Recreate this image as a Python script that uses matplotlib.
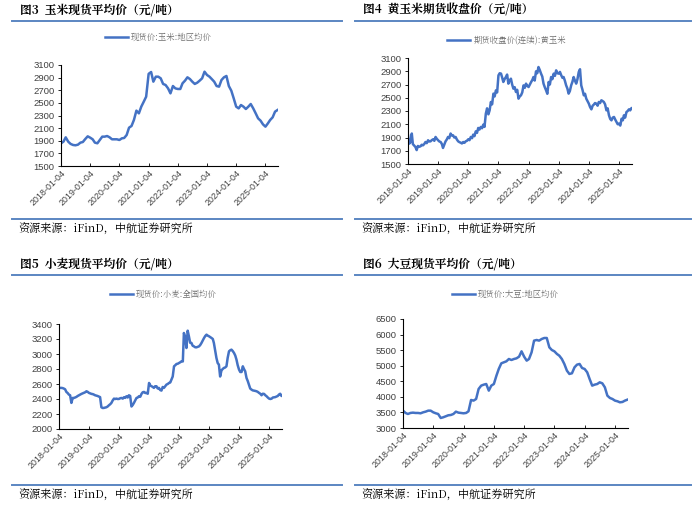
import matplotlib

matplotlib.use("Agg")

import matplotlib.pyplot as plt
import matplotlib.dates as mdates
import numpy as np
import pandas as pd
from matplotlib.lines import Line2D

plt.rcParams["font.family"] = ["Liberation Sans", "Noto Sans CJK SC", "DejaVu Sans"]

# ---------------------------------------------------------------------------
# Data (yuan/ton)
# ---------------------------------------------------------------------------
# monthly points, 2018-01 .. 2025-06
corn_spot = [
    1859, 1886, 1954, 1886, 1850, 1833, 1828, 1838, 1870, 1880, 1928, 1970,
    1949, 1923, 1870, 1860, 1912, 1965, 1965, 1975, 1954, 1923, 1923, 1923,
    1912, 1938, 1944, 1991, 2107, 2134, 2229, 2377, 2334, 2440, 2519, 2598,
    2960, 2989, 2836, 2915, 2915, 2889, 2800, 2783, 2730, 2651, 2767, 2730,
    2720, 2720, 2810, 2852, 2905, 2878, 2836, 2800, 2820, 2852, 2889, 2994,
    2942, 2915, 2878, 2836, 2767, 2757, 2862, 2905, 2926, 2767, 2693, 2572,
    2440, 2413, 2466, 2440, 2403, 2440, 2482, 2413, 2334, 2255, 2218, 2160,
    2123, 2176, 2229, 2271, 2361, 2387,
]

soy_spot = [
    3557, 3483, 3450, 3483, 3493, 3483, 3483, 3472, 3504, 3525, 3557, 3557,
    3504, 3472, 3450, 3322, 3344, 3376, 3408, 3418, 3450, 3525, 3493, 3483,
    3472, 3483, 3536, 3900, 3879, 3932, 4253, 4360, 4392, 4413, 4200, 4360,
    4413, 4681, 4895, 5077, 5109, 5141, 5216, 5184, 5216, 5237, 5291, 5462,
    5291, 5163, 5216, 5430, 5805, 5826, 5805, 5858, 5890, 5890, 5591, 5505,
    5462, 5377, 5323, 5216, 5056, 4842, 4735, 4757, 4949, 5034, 5056, 4927,
    4895, 4788, 4574, 4360, 4392, 4413, 4467, 4435, 4306, 4039, 3964, 3932,
    3879, 3857, 3825, 3836, 3879, 3911,
]

# half-monthly points, 2018-01 .. 2025-06
corn_futures = [
    1933, 1807, 1832, 1960, 1800, 1780, 1757, 1710, 1772, 1760, 1767, 1790,
    1782, 1800, 1832, 1815, 1858, 1840, 1842, 1860, 1873, 1850, 1908, 1880,
    1858, 1840, 1832, 1800, 1742, 1790, 1842, 1870, 1908, 1890, 1960, 1930,
    1933, 1900, 1908, 1870, 1842, 1830, 1822, 1810, 1832, 1820, 1842, 1850,
    1873, 1860, 1908, 1890, 1943, 1920, 1993, 1970, 2044, 2020, 2059, 2040,
    2094, 2060, 2260, 2340, 2250, 2310, 2436, 2400, 2562, 2520, 2612, 2580,
    2838, 2870, 2864, 2800, 2738, 2780, 2813, 2850, 2713, 2760, 2788, 2700,
    2637, 2660, 2587, 2620, 2486, 2520, 2537, 2580, 2687, 2650, 2713, 2680,
    2662, 2700, 2738, 2770, 2813, 2760, 2899, 2870, 2964, 2920, 2864, 2820,
    2713, 2660, 2612, 2560, 2738, 2700, 2813, 2780, 2864, 2830, 2914, 2870,
    2864, 2890, 2838, 2800, 2813, 2760, 2687, 2640, 2562, 2600, 2687, 2740,
    2813, 2760, 2713, 2780, 2889, 2930, 2687, 2620, 2537, 2560, 2486, 2450,
    2411, 2360, 2325, 2380, 2396, 2420, 2411, 2380, 2436, 2420, 2462, 2450,
    2436, 2400, 2310, 2340, 2235, 2180, 2159, 2200, 2210, 2170, 2134, 2100,
    2109, 2080, 2184, 2160, 2235, 2200, 2285, 2300, 2325, 2310, 2345, 2340,
]

wheat_spot = [
    2548, 2548, 2548, 2545, 2539, 2530, 2494, 2480, 2459, 2450, 2348, 2414,
    2414, 2420, 2428, 2440, 2450, 2460, 2468, 2475, 2481, 2490, 2503, 2495,
    2481, 2475, 2468, 2465, 2459, 2450, 2445, 2440, 2432, 2425, 2290, 2280,
    2281, 2285, 2290, 2300, 2317, 2330, 2348, 2380, 2405, 2400, 2405, 2400,
    2401, 2410, 2414, 2405, 2423, 2415, 2437, 2420, 2450, 2440, 2300, 2320,
    2348, 2380, 2414, 2420, 2437, 2430, 2468, 2490, 2494, 2480, 2481, 2470,
    2614, 2580, 2570, 2560, 2548, 2570, 2570, 2540, 2548, 2520, 2512, 2560,
    2548, 2570, 2592, 2600, 2614, 2620, 2659, 2700, 2836, 2850, 2867, 2870,
    2880, 2890, 2903, 2900, 3280, 3230, 3080, 3311, 3236, 3150, 3147, 3110,
    3102, 3090, 3089, 3095, 3102, 3120, 3147, 3180, 3213, 3240, 3258, 3245,
    3236, 3225, 3213, 3200, 3147, 3050, 2947, 2880, 2858, 2700, 2780, 2800,
    2814, 2820, 2836, 2950, 3036, 3050, 3058, 3040, 3014, 2980, 2925, 2850,
    2792, 2760, 2760, 2836, 2800, 2770, 2681, 2640, 2592, 2540, 2525, 2515,
    2512, 2508, 2503, 2495, 2481, 2470, 2450, 2470, 2468, 2450, 2437, 2420,
    2405, 2400, 2405, 2420, 2423, 2425, 2432, 2440, 2459, 2470, 2440, 2450,
]

MONTHLY = pd.date_range("2018-01-01", periods=len(corn_spot), freq="MS") + pd.Timedelta(days=3)
HALF_MONTHLY = pd.DatetimeIndex(
    [d for m in pd.date_range("2018-01-01", periods=len(corn_futures) // 2, freq="MS")
     for d in (m + pd.Timedelta(days=3), m + pd.Timedelta(days=18))]
)
XTICKS = pd.to_datetime([f"{y}-01-04" for y in range(2018, 2026)])
X_MIN, X_MAX = pd.Timestamp("2018-01-04"), pd.Timestamp("2025-06-10")

# ---------------------------------------------------------------------------
# Styling
# ---------------------------------------------------------------------------
W, H = 700, 509
BLUE = "#4472C4"
RULE = "#5b86c2"
SERIF = ["Noto Serif CJK SC", "Noto Sans CJK SC", "DejaVu Sans"]

fig = plt.figure(figsize=(7.0, 5.09), dpi=100)


def px(x, y):
    return x / W, 1 - y / H


def panel(rect_px, x, y, yticks, title, legend, rule_px, legend_px, src_y):
    l, t, r, b = rect_px
    ax = fig.add_axes([l / W, 1 - b / H, (r - l) / W, (b - t) / H])
    ax.plot(x, y, color=BLUE, lw=1.8, label=legend)
    ax.set_xlim(X_MIN, X_MAX)
    ax.set_ylim(yticks[0], yticks[-1])
    ax.set_yticks(yticks)
    ax.set_xticks(XTICKS)
    ax.xaxis.set_major_formatter(mdates.DateFormatter("%Y-%m-%d"))
    for s in ("top", "right"):
        ax.spines[s].set_visible(False)
    for s in ("left", "bottom"):
        ax.spines[s].set_color("#000000")
        ax.spines[s].set_linewidth(0.8)
    ax.tick_params(axis="y", direction="out", length=2.5, width=0.6,
                   labelsize=6.8, labelcolor="#404040", pad=2)
    ax.tick_params(axis="x", direction="in", length=2.5, width=0.6,
                   labelsize=6.4, labelcolor="#404040", pad=2)
    plt.setp(ax.get_xticklabels(), rotation=45, ha="right", rotation_mode="anchor")

    x0, x1, yr = rule_px
    tx = x0 + 8
    fig.text(*px(tx, yr - 7), title, fontsize=8.5, fontweight="bold",
             family=SERIF, va="baseline", ha="left")
    fig.add_artist(Line2D([x0 / W, x1 / W], [1 - yr / H] * 2, color=RULE, lw=1.4))
    fig.add_artist(Line2D([x0 / W, x1 / W], [1 - (src_y - 11) / H] * 2, color=RULE, lw=1.4))
    fig.text(*px(tx - 2, src_y), "资源来源：iFinD，中航证券研究所", fontsize=8,
             family=SERIF, va="center", ha="left")

    lx, ly = legend_px
    leg = ax.legend(loc="center left", bbox_to_anchor=px(lx, ly),
                    bbox_transform=fig.transFigure, frameon=False,
                    borderpad=0, borderaxespad=0, handlelength=2.8,
                    handletextpad=0.35, prop={"family": SERIF, "size": 6.0})
    for txt in leg.get_texts():
        txt.set_color("#6f6f6f")
    return ax


panel((61, 65, 278, 166), MONTHLY, corn_spot, list(range(1500, 3101, 200)),
      "图3  玉米现货平均价（元/吨）", "现货价:玉米:地区均价",
      (12, 342, 21), (105, 37), 230)
panel((408, 58, 632, 164), HALF_MONTHLY, corn_futures, list(range(1500, 3101, 200)),
      "图4  黄玉米期货收盘价（元/吨）", "期货收盘价(连续):黄玉米",
      (355, 691, 21), (447, 40), 230)
panel((59, 324, 282, 429), HALF_MONTHLY, wheat_spot, list(range(2000, 3401, 200)),
      "图5  小麦现货平均价（元/吨）", "现货价:小麦:全国均价",
      (12, 342, 275), (110, 294), 496)
panel((403, 319, 628, 428), MONTHLY, soy_spot, list(range(3000, 6501, 500)),
      "图6  大豆现货平均价（元/吨）", "现货价:大豆:地区均价",
      (355, 691, 275), (452, 294), 496)

fig.savefig("out.png", dpi=100)
